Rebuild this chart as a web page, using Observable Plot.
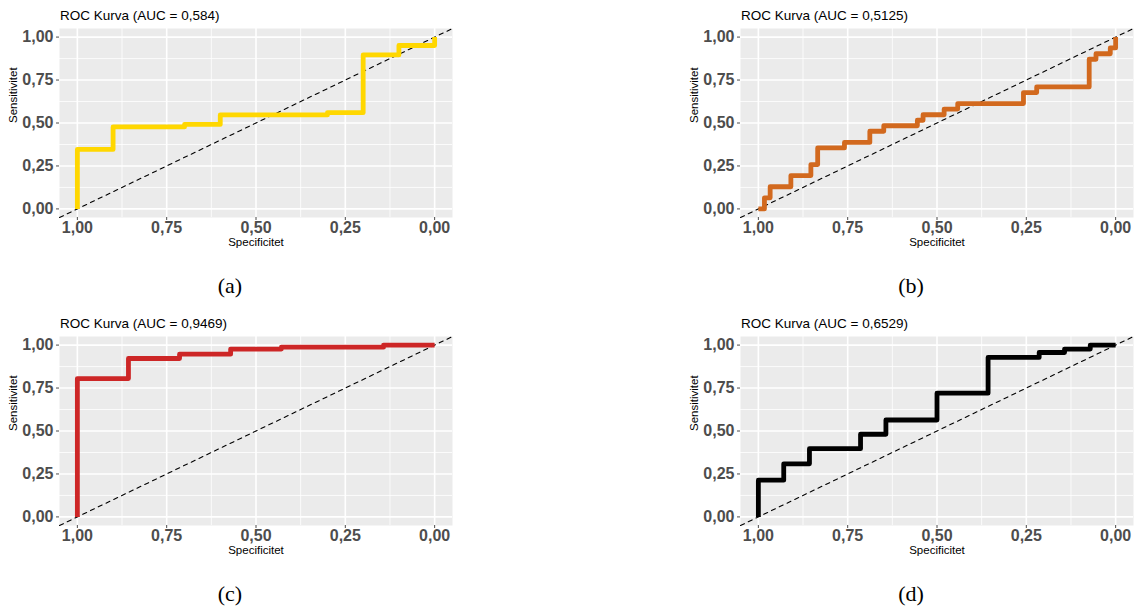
<!DOCTYPE html>
<html><head><meta charset="utf-8">
<script src="https://cdn.jsdelivr.net/npm/d3@7"></script>
<script src="https://cdn.jsdelivr.net/npm/@observablehq/plot@0.6"></script>
<style>
body{margin:0;background:#fff;}
#fig{position:relative;width:1137px;height:610px;overflow:hidden;font-family:"Liberation Sans",Arial,sans-serif;}
.title{position:absolute;font-size:13.5px;line-height:13px;color:#000;white-space:nowrap;}
.cap{position:absolute;width:100px;text-align:center;font-family:"Liberation Serif","DejaVu Serif",serif;font-size:22px;line-height:22px;color:#000;}
.plot{position:absolute;}
</style></head><body><div id="fig"></div>
<script>
// ---- data ----
const titles = ["ROC Kurva (AUC = 0,584)", "ROC Kurva (AUC = 0,5125)", "ROC Kurva (AUC = 0,9469)", "ROC Kurva (AUC = 0,6529)"];
const captions = ["(a)", "(b)", "(c)", "(d)"];
const colors = ["#FFD700", "#D2691E", "#CD2626", "#000000"];

const specA = [1, 1, 0.9, 0.7, 0.6, 0.3, 0.2, 0.1, 0];
const sensA = [0, 0.346, 0.477, 0.492, 0.547, 0.56, 0.896, 0.951, 1];

const specB = [1, 0.983, 0.967, 0.909, 0.853, 0.834, 0.759, 0.688, 0.649, 0.555, 0.539, 0.480, 0.442, 0.258, 0.221, 0.074, 0.055, 0.015, 0];
const sensB = [0, 0.0645, 0.129, 0.194, 0.258, 0.355, 0.387, 0.452, 0.484, 0.516, 0.548, 0.581, 0.613, 0.677, 0.710, 0.871, 0.903, 0.937, 1];

const specC = [1, 1, 0.857, 0.714, 0.571, 0.429, 0.143, 0];
const sensC = [0, 0.805, 0.922, 0.947, 0.977, 0.988, 1, 1];

const specD = [1, 1, 0.929, 0.857, 0.714, 0.643, 0.5, 0.357, 0.214, 0.143, 0.071, 0];
const sensD = [0, 0.214, 0.309, 0.397, 0.481, 0.564, 0.72, 0.928, 0.957, 0.977, 1, 1];

const majorTicks = [0, 0.25, 0.5, 0.75, 1];
const minorTicks = [0.125, 0.375, 0.625, 0.875];
const xLabel = "Specificitet";
const yLabel = "Sensitivitet";

// ---- layout ----
const xDomain = [1.05, -0.05];
const yDomain = [-0.05, 1.05];
const panelLeft = [0, 681, 0, 681];
const panelTop = [20, 20, 328, 328];
const titleTop = [9, 9, 317, 317];
const capTop = [275, 275, 583, 583];
const capCenter = [230, 911, 230, 911];

const series = [[specA, sensA], [specB, sensB], [specC, sensC], [specD, sensD]];
const fmt = d => d.toFixed(2).replace(".", ",");
const fig = document.getElementById("fig");

series.forEach(([spec, sens], i) => {
  const rows = spec.map((s, j) => ({spec: s, sens: sens[j]}));
  const diag = xDomain.map(s => ({spec: s, sens: 1 - s}));
  const chart = Plot.plot({
    width: 456, height: 235,
    marginLeft: 59, marginRight: 4, marginTop: 8, marginBottom: 38,
    style: {fontFamily: "'Liberation Sans', Arial, sans-serif", background: "transparent", overflow: "visible"},
    x: {domain: xDomain, axis: null},
    y: {domain: yDomain, axis: null},
    marks: [
      Plot.frame({fill: "#EBEBEB", stroke: null}),
      Plot.gridX(minorTicks, {stroke: "#fff", strokeOpacity: 1, strokeWidth: 0.8}),
      Plot.gridY(minorTicks, {stroke: "#fff", strokeOpacity: 1, strokeWidth: 0.8}),
      Plot.gridX(majorTicks, {stroke: "#fff", strokeOpacity: 1, strokeWidth: 1.6}),
      Plot.gridY(majorTicks, {stroke: "#fff", strokeOpacity: 1, strokeWidth: 1.6}),
      Plot.line(diag, {x: "spec", y: "sens", stroke: "#000", strokeWidth: 1.1, strokeDasharray: "4.3,4.3"}),
      Plot.line(rows, {x: "spec", y: "sens", curve: "step-after", stroke: colors[i], strokeWidth: 4.8, strokeLinecap: "butt", strokeLinejoin: "round"}),
      Plot.axisX({ticks: majorTicks, tickFormat: fmt, tickSize: 3, tickPadding: 1.5, fontSize: 16, fontWeight: "bold", color: "#4D4D4D", label: null}),
      Plot.axisY({ticks: majorTicks, tickFormat: fmt, tickSize: 3, tickPadding: 3, fontSize: 16, fontWeight: "bold", color: "#4D4D4D", label: null}),
      Plot.text([xLabel], {text: d => d, frameAnchor: "bottom", dy: 28.5, fontSize: 11.5, fill: "#000"}),
      Plot.text([yLabel], {text: d => d, frameAnchor: "left", dx: -46, rotate: -90, fontSize: 11.5, fill: "#000"})
    ]
  });
  chart.classList.add("plot");
  chart.style.left = panelLeft[i] + "px";
  chart.style.top = panelTop[i] + "px";
  fig.appendChild(chart);

  const t = document.createElement("div");
  t.className = "title";
  t.textContent = titles[i];
  t.style.left = (panelLeft[i] + 60) + "px";
  t.style.top = titleTop[i] + "px";
  fig.appendChild(t);

  const c = document.createElement("div");
  c.className = "cap";
  c.textContent = captions[i];
  c.style.left = (capCenter[i] - 50) + "px";
  c.style.top = capTop[i] + "px";
  fig.appendChild(c);
});
</script>
</body></html>
